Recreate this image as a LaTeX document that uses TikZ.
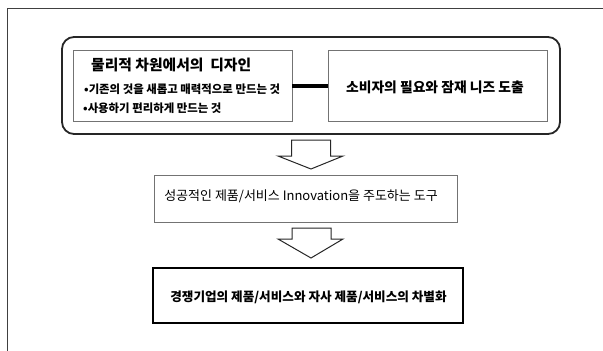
\documentclass[tikz,border=0pt]{standalone}
\usepackage{fontspec}
\setmainfont{Noto Sans CJK KR}
\usetikzlibrary{calc}
\begin{document}
\begin{tikzpicture}[x=1pt,y=-1pt,
  frame/.style={draw=black!75,line width=0.8pt},
  roundbox/.style={draw=black!85,line width=1.8pt,rounded corners=12pt},
  thinbox/.style={draw=black!55,line width=0.8pt},
  heavybox/.style={draw=black,line width=2.8pt},
  blockarrow/.style={draw=black!85,line width=1pt,fill=white,line join=miter},
  link/.style={draw=black,line width=4pt},
  txt/.style={inner sep=0pt,font=\fontsize{13pt}{15pt}\selectfont},
  btxt/.style={inner sep=0pt,font=\fontsize{12.6pt}{15pt}\selectfont\bfseries},
  rtxt/.style={inner sep=0pt,font=\fontsize{13.8pt}{16pt}\selectfont\bfseries},
  ttl/.style={inner sep=0pt,font=\fontsize{14.8pt}{17pt}\selectfont\bfseries},
  bul/.style={inner sep=0pt,anchor=west,font=\fontsize{11.4pt}{13pt}\selectfont\bfseries}]
\useasboundingbox (0,0) rectangle (603,351);
% outer frame (left and top edges)
\draw[frame] (7,351) -- (7,8) -- (603,8);
% rounded container
\draw[roundbox] (62,37) rectangle (560,134);
\node[draw=none,minimum width=498pt,minimum height=97pt,inner sep=0pt] (outer) at (311,85.5) {};
% left inner box
\node[thinbox,minimum width=219pt,minimum height=71pt,inner sep=0pt] (left) at (182.5,85.5) {};
\node[ttl,anchor=west] (ltitle) at (91,65) {물리적 차원에서의 \ 디자인};
\node[bul] (lb1) at (84,89) {•기존의 것을 새롭고 매력적으로 만드는 것};
\node[bul] (lb2) at (83,108) {•사용하기 편리하게 만드는 것};
% right inner box
\node[thinbox,minimum width=219pt,minimum height=71pt,inner sep=0pt] (right) at (437.5,85.5) {};
\node[rtxt] (rtext) at (435,87) {소비자의 필요와 잠재 니즈 도출};
% thick link
\draw[link] (left.east) -- (right.west);
% arrow 1
\coordinate (a1) at (311,140);
\draw[blockarrow] ($(a1)+(-19.5,0)$) -- ($(a1)+(19.5,0)$) -- ($(a1)+(19.5,16)$) -- ($(a1)+(32,16)$)
  -- ($(a1)+(0,29)$) -- ($(a1)+(-33,16)$) -- ($(a1)+(-19.5,16)$) -- cycle;
% middle box
\node[thinbox,minimum width=303pt,minimum height=47pt,inner sep=0pt] (mid) at (305.5,198.5) {};
\node[txt] (mtext) at (301,196) {성공적인 제품/서비스 Innovation을 주도하는 도구};
% arrow 2
\coordinate (a2) at (311,228);
\draw[blockarrow] ($(a2)+(-19,0)$) -- ($(a2)+(20,0)$) -- ($(a2)+(20,11)$) -- ($(a2)+(32,11)$)
  -- ($(a2)+(0,30)$) -- ($(a2)+(-33,11)$) -- ($(a2)+(-19,11)$) -- cycle;
% bottom box
\node[heavybox,minimum width=310pt,minimum height=55pt,inner sep=0pt] (bot) at (308,295.5) {};
\node[btxt] (btext) at (308.5,297) {경쟁기업의 제품/서비스와 자사 제품/서비스의 차별화};
\end{tikzpicture}
\end{document}
